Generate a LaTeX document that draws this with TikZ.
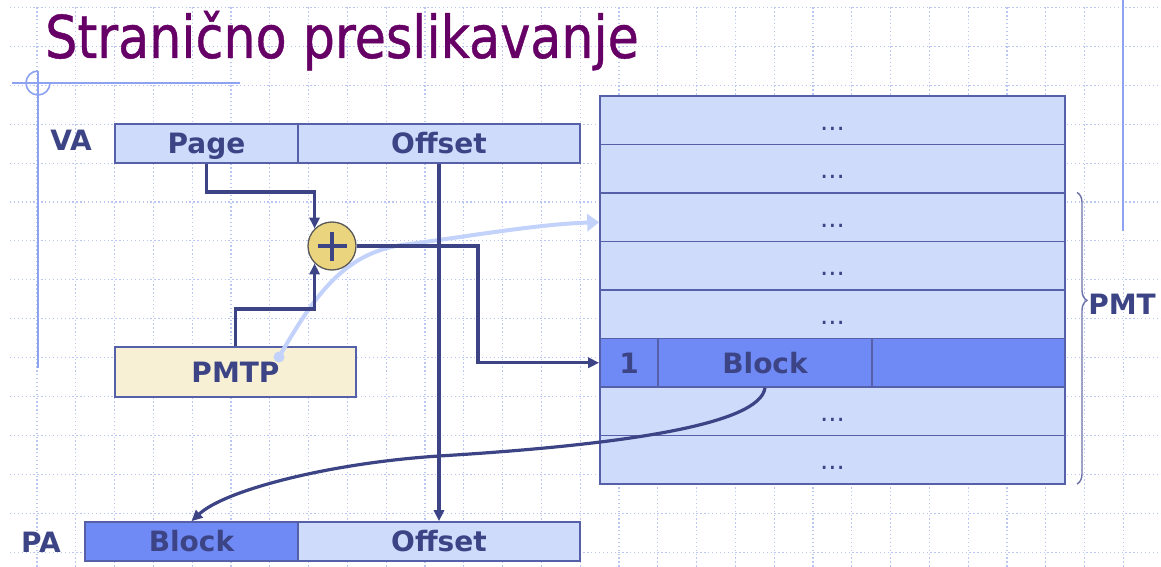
\documentclass[tikz,border=0pt]{standalone}
\usepackage{fontspec}
\setmainfont{DejaVu Sans}
\usetikzlibrary{arrows.meta,decorations.pathreplacing,calc}
\definecolor{navy}{HTML}{3D4486}
\definecolor{bordc}{HTML}{5560A8}
\definecolor{lightb}{HTML}{CEDBFA}
\definecolor{blockb}{HTML}{6F8AF4}
\definecolor{cream}{HTML}{F7F0D4}
\definecolor{gold}{HTML}{EBD47E}
\definecolor{titlec}{HTML}{660066}
\definecolor{gridc}{HTML}{B9C7F2}
\definecolor{decoc}{HTML}{8DA3F2}
\definecolor{curvec}{HTML}{C2D2FA}
\definecolor{bracec}{HTML}{6B73A8}
\begin{document}
\begin{tikzpicture}[x=1pt,y=-1pt,
  gridline/.style={gridc, line width=1.1pt, dash pattern=on 1.3pt off 2.6pt},
  deco/.style={decoc, line width=1.6pt},
  lab/.style={text=navy, font=\fontsize{28}{30}\selectfont\bfseries, text height=20.5pt, text depth=0pt, inner sep=0pt},
  cell/.style={draw=bordc, line width=1.6pt, inner sep=0pt, minimum height=39pt, text=navy, font=\fontsize{28}{30}\selectfont\bfseries, text height=20.5pt, text depth=0pt},
  rowbox/.style={draw=bordc, fill=lightb, line width=1.6pt, minimum width=465pt, minimum height=48.5pt, inner sep=0pt, text=navy, font=\fontsize{26}{28}\selectfont, text height=20pt, text depth=0pt},
  conn/.style={draw=navy, line width=3.2pt},
  tip/.style={-{Triangle[length=11pt,width=10pt]}}
]
\useasboundingbox (0,0) rectangle (1161,567);
\fill[white] (0,0) rectangle (1161,567);
% background grid
\foreach \i in {0,...,28} \draw[gridline] ({37+38.8*\i},7.5) -- ({37+38.8*\i},567);
\foreach \j in {0,...,14} \draw[gridline] (10,{7.5+38.9*\j}) -- (1161,{7.5+38.9*\j});
% slide decoration
\draw[deco] (12,83) -- (240,83);
\draw[deco] (38,71) -- (38,368);
\draw[deco] (50,83) arc[start angle=0, end angle=270, radius=12];
\draw[deco] (1123,0) -- (1123,231);
% title
\node[anchor=base west, inner sep=0pt, text=titlec, font=\fontsize{59}{60}\selectfont\addfontfeature{FakeBold=0.8}] (title) at (45,58) {\scalebox{0.86}[1]{Stranično preslikavanje}};
% labels
\node[lab] (va) at (71,140) {VA};
\node[lab] (pa) at (41,542) {PA};
\node[lab] (pmt) at (1122,304) {PMT};
% VA
\node[cell, fill=lightb, minimum width=183pt] (vpage) at (206.5,143.5) {Page};
\node[cell, fill=lightb, minimum width=282pt] (voff) at (439,143.5) {Offset};
% PMTP
\node[cell, fill=cream, minimum width=241pt, minimum height=50pt] (pmtp) at (235.5,372) {PMTP};
% PA
\node[cell, fill=blockb, minimum width=213pt] (pablock) at (191.5,541.5) {Block};
\node[cell, fill=lightb, minimum width=282pt] (paoff) at (439,541.5) {Offset};
% PMT table
\foreach \i/\yy in {0/120.25,1/168.75,2/217.25,3/265.75,4/314.25,6/411.25,7/459.75}
  \node[rowbox] (r\i) at (832.5,\yy) {...};
\node[cell, fill=blockb, minimum width=58pt, minimum height=48.5pt] (c1) at (629,362.75) {1};
\node[cell, fill=blockb, minimum width=214pt, minimum height=48.5pt] (cblock) at (765,362.75) {Block};
\node[cell, fill=blockb, minimum width=193pt, minimum height=48.5pt] (crest) at (968.5,362.75) {};
% brace
\coordinate (bt) at (1077,192.5);
\coordinate (bb) at (1077,484);
\draw[bracec, line width=1.4pt, decorate, decoration={brace, amplitude=10pt, aspect=0.37}] (bt) -- (bb);
% light pointer curve
\coordinate (pdot) at (279,357);
\draw[curvec, line width=4pt, -{Triangle[length=12pt,width=17pt]}] (pdot) .. controls (315,295) and (345,250) .. (410,244) .. controls (470,236) and (540,224) .. ([yshift=-5pt]r2.west);
\fill[curvec] (pdot) circle[radius=5.5pt];
% adder
\node[circle, draw=black!65, fill=gold, line width=1.3pt, minimum size=48pt, inner sep=0pt] (plus) at (332,246) {};
% connectors
\coordinate (bx) at (478,0);
\coordinate (py) at (0,192);
\coordinate (qy) at (0,309);
\draw[conn, tip] (vpage.south) -- (vpage.south |- py) -| (plus.135);
\draw[conn, tip] (pmtp.north) -- (pmtp.north |- qy) -| (plus.225);
\draw[conn, tip] (plus.east) -- (plus.east -| bx) |- (c1.west);
\draw[conn, tip] (voff.south) -- (paoff.north);
\draw[conn, tip] (cblock.south) .. controls (760,425) and (620,445) .. (439,456) .. controls (330,463) and (225,490) .. (pablock.north);
% plus sign
\draw[navy, line width=3.8pt] ([xshift=-14.5pt]plus.center) -- ([xshift=14.5pt]plus.center);
\draw[navy, line width=3.8pt] ([yshift=-14.5pt]plus.center) -- ([yshift=14.5pt]plus.center);
\end{tikzpicture}
\end{document}
